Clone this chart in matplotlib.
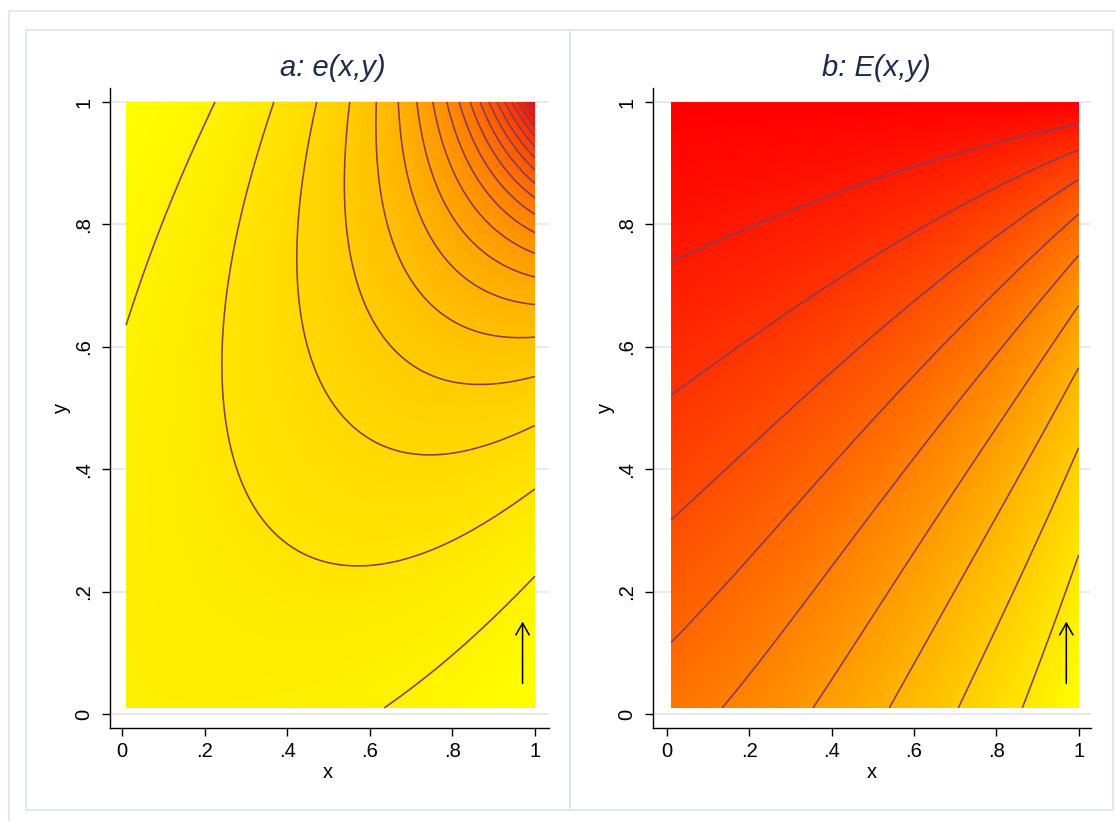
"""Two contour panels: e(x,y) and E(x,y) on the unit square."""

import numpy as np
import matplotlib
matplotlib.use("Agg")
import matplotlib.pyplot as plt
from matplotlib.colors import LinearSegmentedColormap
from matplotlib.lines import Line2D
from matplotlib.patches import Rectangle

# ── surface parameters ────────────────────────────────────────
E_ORIGIN = 0.5      # e(0,0)
E_POWER = 2.36
E_CROSS = 0.727
E_EDGE = 0.2
E_EDGE_EXP = 3.5
E_BULGE = 0.6
E_TOP = 1.0         # E(x,1)
X_MIN, X_MAX = 0.01, 1.0
N_GRID = 400
N_CUTS_E = 20       # bands for e
N_CUTS_BIG = 10     # bands for E

titles = ["a: e(x,y)", "b: E(x,y)"]
ticks = [0, 0.2, 0.4, 0.6, 0.8, 1]
tick_labels = ["0", ".2", ".4", ".6", ".8", "1"]
arrow_x = 0.97
arrow_y = [0.05, 0.151]

# ── colours ───────────────────────────────────────────────────
LINE = "#8b3a52"
FRAME = "#dfe4ee"
GRID = "#e3e7ef"
TITLE = "#1c2b4c"
cmap = LinearSegmentedColormap.from_list("yr", ["#ffff00", "#ff0000"])
FONT = "Liberation Sans"

W, H = 1116, 821


def fx(px):
    return px / W


def fy(py):
    return 1 - py / H


def e_fun(x, y):
    xk, yk = x**E_EDGE_EXP, y**E_EDGE_EXP
    q = (1 + E_EDGE * (xk + yk - xk * yk) - E_CROSS * x * y
         + E_BULGE * (x * y) ** 2 * (1 - x) * (1 - y))
    return E_ORIGIN * q ** (-E_POWER)


xs = np.linspace(X_MIN, X_MAX, N_GRID)
ys = np.linspace(X_MIN, X_MAX, N_GRID)
X, Y = np.meshgrid(xs, ys)
e = e_fun(X, Y)

# E(x,y) = E_TOP - integral of e from y to 1
dy = ys[1] - ys[0]
seg = 0.5 * (e[1:, :] + e[:-1, :]) * dy
tail = np.vstack([np.cumsum(seg[::-1], axis=0)[::-1], np.zeros((1, N_GRID))])
big_e = E_TOP - tail

fig = plt.figure(figsize=(W / 100, H / 100), dpi=100)
fig.patch.set_facecolor("white")

# outer frame and panel frames
fig.add_artist(Line2D([fx(9), 1], [fy(11), fy(11)], color=FRAME, lw=1.2))
fig.add_artist(Line2D([fx(9), fx(9)], [fy(11), 0], color=FRAME, lw=1.2))
for x0, x1 in [(26, 570), (570, 1113)]:
    fig.add_artist(Rectangle((fx(x0), fy(810)), fx(x1) - fx(x0), fy(30) - fy(810),
                             fill=False, edgecolor=FRAME, lw=1.2))

panels = [
    dict(rect=[fx(110), fy(728), fx(549) - fx(110), fy(88) - fy(728)],
         xlim=(-0.029, 1.034), z=e, cuts=N_CUTS_E, title_x=333, ylab_x=61, xlab_x=328),
    dict(rect=[fx(653), fy(728), fx(1091) - fx(653), fy(88) - fy(728)],
         xlim=(-0.034, 1.030), z=big_e, cuts=N_CUTS_BIG, title_x=876, ylab_x=605, xlab_x=872),
]

for p, title in zip(panels, titles):
    ax = fig.add_axes(p["rect"])
    z = p["z"]
    zmin, zmax = z.min(), z.max()
    ax.imshow(z, origin="lower", extent=(X_MIN, X_MAX, X_MIN, X_MAX), cmap=cmap,
              vmin=zmin, vmax=zmax, aspect="auto", interpolation="bilinear", zorder=2)
    levels = zmin + (zmax - zmin) * np.arange(1, p["cuts"]) / p["cuts"]
    ax.contour(X, Y, z, levels=levels, colors=LINE, linewidths=1.15, zorder=3)
    ax.annotate("", xy=(arrow_x, arrow_y[1]), xytext=(arrow_x, arrow_y[0]),
                arrowprops=dict(arrowstyle="->,head_length=0.85,head_width=0.48",
                                color="black", lw=1.1, shrinkA=0, shrinkB=0),
                zorder=4)

    ax.set_xlim(*p["xlim"])
    ax.set_ylim(-0.0229, 1.0229)
    ax.set_xticks(ticks)
    ax.set_xticklabels(tick_labels, fontsize=14.5, family=FONT)
    ax.set_yticks(ticks)
    ax.set_yticklabels(tick_labels, fontsize=14.5, family=FONT, rotation=90, va="center")
    ax.tick_params(length=6, width=1, pad=4, colors="black")
    ax.tick_params(axis="y", pad=6)
    for side in ["top", "right"]:
        ax.spines[side].set_visible(False)
    for side in ["left", "bottom"]:
        ax.spines[side].set_linewidth(1.0)
    ax.set_axisbelow(True)
    ax.grid(axis="y", color=GRID, lw=1.2, zorder=0)
    ax.grid(axis="x", visible=False)

    fig.text(fx(p["title_x"]), fy(68), title, ha="center", va="center",
             fontsize=21, style="italic", color=TITLE, family=FONT)
    fig.text(fx(p["ylab_x"]), fy(408), "y", ha="center", va="center",
             fontsize=14.5, rotation=90, family=FONT)
    fig.text(fx(p["xlab_x"]), fy(772), "x", ha="center", va="center",
             fontsize=14.5, family=FONT)

fig.savefig("out.png", dpi=100, facecolor="white")
